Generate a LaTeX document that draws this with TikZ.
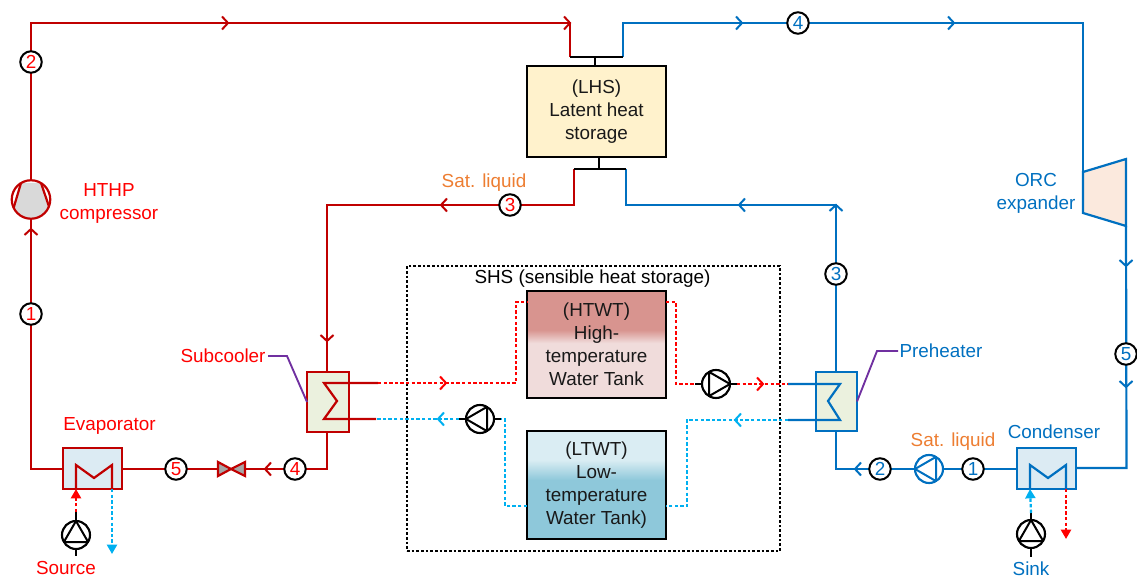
\documentclass[tikz,border=0pt]{standalone}
\usepackage{fontspec}
\setmainfont{Liberation Sans}
\usetikzlibrary{arrows.meta,calc}
\definecolor{rl}{HTML}{C00000}
\definecolor{rt}{HTML}{FF0000}
\definecolor{bl}{HTML}{0070C0}
\definecolor{cy}{HTML}{00B0F0}
\definecolor{og}{HTML}{ED7D31}
\definecolor{vi}{HTML}{7030A0}
\definecolor{hxg}{HTML}{EBF1DE}
\definecolor{hxb}{HTML}{DCEBF3}
\definecolor{lhsf}{HTML}{FFF2CC}
\definecolor{expf}{HTML}{FBE9DD}
\definecolor{HT1}{HTML}{D8948F}
\definecolor{HT2}{HTML}{F0DCDB}
\definecolor{LT1}{HTML}{DAEDF3}
\definecolor{LT2}{HTML}{8EC8DA}
\pgfdeclareverticalshading{htwtshade}{100bp}{color(0bp)=(HT2); color(50.7bp)=(HT2); color(56.8bp)=(HT1); color(100bp)=(HT1)}
\pgfdeclareverticalshading{ltwtshade}{100bp}{color(0bp)=(LT2); color(52.3bp)=(LT2); color(61.6bp)=(LT1); color(100bp)=(LT1)}
\pgfdeclarelayer{bg}
\pgfsetlayers{bg,main}
\def\px{0.75pt}
\newcommand{\chev}[4]{\draw[#4,line width=1.5pt,shift={(#1,#2)},rotate=#3] (-6,-6.5) -- (0,0) -- (-6,6.5);}
\newcommand{\pumpsym}[5]{% name, x, y, tip angle, colour
  \node[pumpnode,draw=#5] (#1) at (#2,#3) {};
  \pgfmathsetmacro{\pa}{#4}\pgfmathsetmacro{\pb}{#4+120}\pgfmathsetmacro{\pc}{#4+240}
  \draw[#5,line width=1.5pt,line join=round] (#1.\pa) -- (#1.\pb) -- (#1.\pc) -- cycle;}
\tikzset{
  x=0.75pt,y=-0.75pt,
  every node/.style={font=\fontsize{14.15}{17.2}\selectfont,inner sep=0pt,outer sep=0pt,align=center},
  redl/.style={rl,line width=1.65pt},
  bluel/.style={bl,line width=1.65pt},
  blk/.style={black,line width=1.65pt},
  vio/.style={vi,line width=1.4pt},
  reddash/.style={rt,line width=1.65pt,dash pattern=on 2.6pt off 1.6pt},
  cydash/.style={cy,line width=1.65pt,dash pattern=on 2.6pt off 1.6pt},
  num/.style={circle,draw=black,fill=white,line width=1.5pt,minimum size=21.5*\px},
  numr/.style={num,text=rt},
  numb/.style={num,text=bl},
  pumpnode/.style={circle,fill=white,line width=1.6pt,minimum size=28*\px},
  tank/.style={rectangle,draw=black,line width=1.65pt,minimum width=139*\px,text=black!90},
  hxbox/.style={rectangle,line width=1.65pt,minimum width=42*\px,minimum height=60*\px},
  evbox/.style={rectangle,line width=1.65pt,fill=hxb,minimum width=59*\px,minimum height=41*\px},
  tipr/.style={-{Triangle[length=7pt,width=7.5pt]}},
}
\begin{document}
\begin{tikzpicture}
\useasboundingbox (0,0) rectangle (1137,580);
% storage
\node[tank,fill=lhsf,minimum height=91*\px] (lhs) at (596.5,111.5) {(LHS)\\Latent heat\\storage};
\node[tank,shading=htwtshade,minimum height=107*\px] (htwt) at (596.5,344.5) {(HTWT)\\High-\\temperature\\Water Tank};
\node[tank,shading=ltwtshade,minimum height=108*\px] (ltwt) at (596.5,485) {(LTWT)\\Low-\\temperature\\Water Tank)};
\node[rectangle,draw=black,line width=1.3pt,dash pattern=on 1.9pt off 1.6pt,minimum width=373*\px,minimum height=285*\px] (shs) at (593.5,408.5) {};
\node[inner sep=1pt] (shslabel) at (592.5,278.5) {SHS (sensible heat storage)};
% heat exchangers
\node[hxbox,draw=rl,fill=hxg] (sub) at (328,402) {};
\node[hxbox,draw=bl,fill=hxg,minimum width=41*\px,minimum height=59*\px] (pre) at (836.5,401.5) {};
\node[evbox,draw=rl] (evap) at (92.5,468.5) {};
\node[evbox,draw=bl] (cond) at (1046.5,468.5) {};
% compressor
\begin{scope}
\clip (31,199.5) circle (19);
\fill[black!15] (21,183) -- (41,183) -- (51,218) -- (11,218) -- cycle;
\draw[redl] (21,183) -- (13,210) (41,183) -- (49.5,208);
\end{scope}
\node[circle,draw=rl,line width=1.65pt,minimum size=38.5*\px] (comp) at (31,199.5) {};
% expander
\coordinate (extl) at (1083,172);
\coordinate (extr) at (1126,159);
\coordinate (exbr) at (1126,226);
\coordinate (exbl) at (1083,213);
\draw[bluel,fill=expf,line join=miter] (extl) -- (extr) -- (exbr) -- (exbl) -- cycle;
% valve
\coordinate (vc) at (231,469);
\coordinate (vl) at (218,469);
\coordinate (vr) at (245,469);
\draw[redl,fill=black!35] (vc) -- (218,462) -- (218,476) -- cycle;
\draw[redl,fill=black!35] (vc) -- (245,462) -- (245,476) -- cycle;
% pumps
\pumpsym{pss}{76}{535}{90}{black}
\pumpsym{psk}{1031}{534}{90}{black}
\pumpsym{ph}{716}{384}{0}{black}
\pumpsym{pl}{480}{419}{180}{black}
\pumpsym{porc}{929}{469}{180}{bl}
% state numbers
\node[numr] (r1) at (31,314) {1};
\node[numr] (r2) at (31,62) {2};
\node[numr] (r3) at (510,205) {3};
\node[numr] (r4) at (295,469) {4};
\node[numr] (r5) at (176,469) {5};
\node[numb] (b1) at (973,469) {1};
\node[numb] (b2) at (880,469) {2};
\node[numb] (b3) at (836,274) {3};
\node[numb] (b4) at (798,23) {4};
\node[numb] (b5) at (1126,354) {5};
% labels
\node[text=rt] (tevap) at (109.5,426) {Evaporator};
\node[text=rt] (tsource) at (66,568.5) {Source};
\node[text=rt] (tcomp) at (109,203.5) {HTHP\\compressor};
\node[text=rt] (tsub) at (223,356) {Subcooler};
\node[text=og] (tsat1) at (484,183) {Sat. liquid};
\node[text=og] (tsat2) at (953,442) {Sat. liquid};
\node[text=bl] (tpre) at (941,351) {Preheater};
\node[text=bl] (tcond) at (1054,432) {Condenser};
\node[text=bl] (tsink) at (1031,569) {Sink};
\node[text=bl] (torc) at (1036,193.5) {ORC\\expander};
% junctions
\coordinate (tj) at (595,57);
\coordinate (tjl) at (570,57);
\coordinate (tjr) at (623,57);
\coordinate (bj) at (599,169);
\coordinate (bjl) at (574,169);
\coordinate (bjr) at (626,169);
\coordinate (ctl) at (31,23);
\coordinate (ctm) at (570,23);
\coordinate (ctb) at (623,23);
\coordinate (ctr) at (1083,23);
\coordinate (cr3) at (574,205);
\coordinate (cl3) at (327,205);
\coordinate (cb3r) at (626,205);
\coordinate (cb3m) at (836,205);
\coordinate (cev) at (31,469);
\coordinate (csr) at (327,469);
\coordinate (cbr) at (1126.5,468);
\coordinate (cpb) at (836,469);
% connectors
\begin{pgfonlayer}{bg}
\draw[redl] (comp.north) -- (ctl) -- (ctm) -- (tjl);
\draw[redl] (evap.west |- cev) -- (cev) -- (comp.south);
\draw[redl] (evap.east |- vc) -- (vl);
\draw[redl] (vr) -- (csr) -- (sub.south -| csr);
\draw[redl] (bjl) -- (cr3) -- (cl3) -- (sub.north -| cl3);
\draw[bluel] (tjr) -- (ctb) -- (ctr) -- (extl);
\draw[bluel] (exbr) -- (cbr) -- (cond.east |- cbr);
\draw[bluel] (cond.west |- b1) -- (porc.east);
\draw[bluel] (porc.west) -- (cpb) -- (pre.south -| cpb);
\draw[bluel] (pre.north -| cb3m) -- (cb3m) -- (cb3r) -- (bjr);
\end{pgfonlayer}
% tees at the latent store
\draw[blk] (tjl) -- (tjr);
\draw[blk] (tj) -- (lhs.north -| tj);
\draw[blk] (bjl) -- (bjr);
\draw[blk] (bj) -- (lhs.south -| bj);
% heat exchanger coils
\coordinate (s1) at (378,383);
\coordinate (s2) at (376,419);
\draw[redl,line join=miter] (s1) -- (324,383) -- (337,401) -- (324,419) -- (s2);
\coordinate (p1) at (788,384);
\coordinate (p2) at (788,420);
\draw[bluel,line join=miter] (p1) -- (840,384) -- (828,401) -- (840,420) -- (p2);
\coordinate (ea) at (76,489);
\coordinate (eb) at (112,489);
\draw[redl,line join=miter] (ea) -- (76,465) -- (94,478) -- (112,465) -- (eb);
\coordinate (ca) at (1030,489);
\coordinate (cb) at (1066,489);
\draw[bluel,line join=miter] (ca) -- (1030,465) -- (1048,478) -- (1066,465) -- (cb);
% pump stubs
\coordinate (phl) at (695,384);
\coordinate (phr) at (737,384);
\coordinate (pll) at (459,419);
\coordinate (plr) at (501,419);
\coordinate (pst) at (76,512);
\coordinate (psb) at (76,556);
\coordinate (pkt) at (1031,513);
\coordinate (pkb) at (1031,557);
\draw[blk] (ph.west) -- (phl) (ph.east) -- (phr);
\draw[blk] (pl.west) -- (pll) (pl.east) -- (plr);
\draw[blk] (pss.north) -- (pst) (pss.south) -- (psb);
\draw[blk] (psk.north) -- (pkt) (psk.south) -- (pkb);
% water loops
\coordinate (h1) at (516,383);
\coordinate (h2) at (516,302);
\coordinate (h3) at (676,302);
\coordinate (h4) at (676,384);
\coordinate (l1) at (687,420);
\coordinate (l2) at (687,506);
\coordinate (l3) at (505,506);
\coordinate (l4) at (505,419);
\draw[reddash] (s1) -- (h1) -- (h2) -- (htwt.west |- h2);
\draw[reddash] (htwt.east |- h3) -- (h3) -- (h4) -- (phl);
\draw[reddash] (phr) -- (p1);
\draw[cydash] (p2) -- (l1) -- (l2) -- (ltwt.east |- l2);
\draw[cydash] (ltwt.west |- l3) -- (l3) -- (l4) -- (plr);
\draw[cydash] (pll) -- (s2);
% source and sink streams
\coordinate (sr1) at (112,554);
\coordinate (sk1) at (1066,539);
\draw[reddash,tipr] (pst) -- (ea);
\draw[cydash,tipr] (eb) -- (sr1);
\draw[cydash,tipr] (pkt) -- (ca);
\draw[reddash,tipr] (cb) -- (sk1);
% leaders
\coordinate (lv1) at (268,356);
\coordinate (lv2) at (287,356);
\coordinate (lv3) at (898,351);
\coordinate (lv4) at (877,351);
\draw[vio] (lv1) -- (lv2) -- (sub.west);
\draw[vio] (lv3) -- (lv4) -- (pre.east);
% flow direction marks
\chev{228}{23}{0}{rl}
\chev{570}{23}{0}{rl}
\chev{31}{229}{90}{rl}
\chev{441}{205}{180}{rl}
\chev{327}{341}{-90}{rl}
\chev{265}{469}{180}{rl}
\chev{742}{23}{0}{bl}
\chev{954}{23}{0}{bl}
\chev{1126}{266}{-90}{bl}
\chev{1126}{387}{-90}{bl}
\chev{739}{205}{180}{bl}
\chev{836}{205}{90}{bl}
\chev{855}{469}{180}{bl}
\chev{446}{383}{0}{rt}
\chev{763}{384}{0}{rt}
\chev{438}{419}{180}{cy}
\chev{735}{420}{180}{cy}
\end{tikzpicture}
\end{document}
